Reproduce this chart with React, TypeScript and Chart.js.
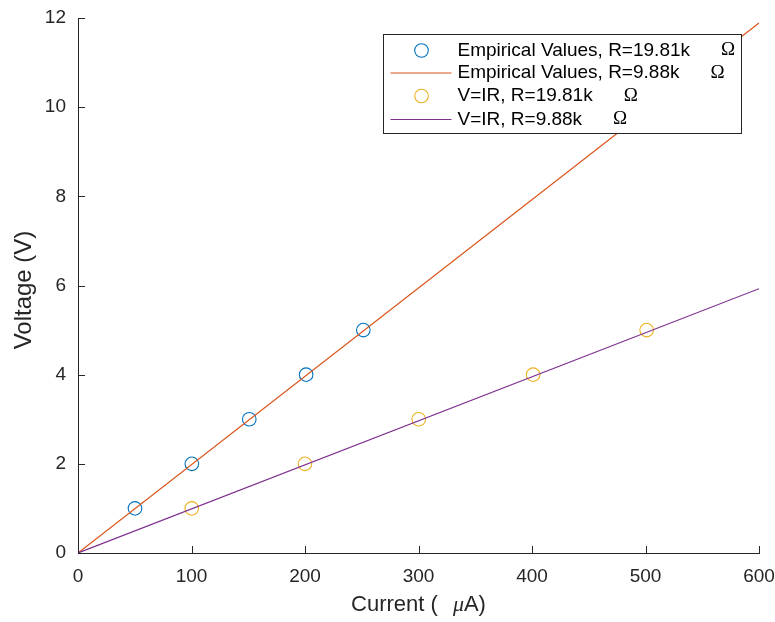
import React, { useEffect, useRef } from "react";
import { Chart, registerables } from "chart.js";

Chart.register(...registerables);

// ---- data ----
const xTickValues = [0, 100, 200, 300, 400, 500, 600];
const yTickValues = [0, 2, 4, 6, 8, 10, 12];

const empiricalCurrent = [50.2, 100.3, 150.9, 201, 251.4];
const empiricalVoltage = [1, 2, 3, 4, 5];

const fitCurrentHigh = [0, 600];
const fitVoltageHigh = [0, 11.886];

const ohmCurrent = [100.2, 200, 300.2, 401, 501];
const ohmVoltage = [1, 2, 3, 4, 5];

const fitCurrentLow = [0, 600];
const fitVoltageLow = [0, 5.928];

const legendLabels = [
  "Empirical Values, R=19.81k",
  "Empirical Values, R=9.88k",
  "V=IR, R=19.81k",
  "V=IR, R=9.88k",
];
const unitSymbol = "Ω";
const xTitleBefore = "Current (";
const xTitleMu = "μ";
const xTitleAfter = "A)";
const yTitle = "Voltage (V)";

const SANS = "'Liberation Sans', Arial, Helvetica, sans-serif";
const SERIF = "'Liberation Serif', 'Times New Roman', serif";
const AXIS_COLOR = "#262626";

function toPoints(xs: number[], ys: number[]) {
  return xs.map((x, i) => ({ x, y: ys[i] }));
}

const matlabPlugin = {
  id: "matlabDecor",
  afterDraw(chart: any) {
    const ctx: CanvasRenderingContext2D = chart.ctx;
    const xs = chart.scales.x;
    const ys = chart.scales.y;
    const area = chart.chartArea;
    ctx.save();

    // inward ticks
    ctx.strokeStyle = AXIS_COLOR;
    ctx.lineWidth = 1;
    ctx.beginPath();
    xTickValues.forEach((v) => {
      const px = Math.round(xs.getPixelForValue(v)) + 0.5;
      ctx.moveTo(px, area.bottom);
      ctx.lineTo(px, area.bottom - 7);
    });
    yTickValues.forEach((v) => {
      const py = Math.round(ys.getPixelForValue(v)) + 0.5;
      ctx.moveTo(area.left, py);
      ctx.lineTo(area.left + 7, py);
    });
    ctx.stroke();

    // x title
    ctx.fillStyle = AXIS_COLOR;
    ctx.textBaseline = "middle";
    ctx.textAlign = "left";
    const sansTitle = `22px ${SANS}`;
    const muFont = `italic 22px ${SERIF}`;
    ctx.font = sansTitle;
    const w1 = ctx.measureText(xTitleBefore).width;
    const w3 = ctx.measureText(xTitleAfter).width;
    ctx.font = muFont;
    const w2 = ctx.measureText(xTitleMu).width;
    const gap = 15;
    const total = w1 + gap + w2 + w3;
    const cx = (area.left + area.right) / 2;
    const ty = 605;
    let sx = cx - total / 2;
    ctx.font = sansTitle;
    ctx.fillText(xTitleBefore, sx, ty);
    sx += w1 + gap;
    ctx.font = muFont;
    ctx.fillText(xTitleMu, sx, ty);
    sx += w2;
    ctx.font = sansTitle;
    ctx.fillText(xTitleAfter, sx, ty);

    // y title
    ctx.save();
    ctx.translate(24, 290);
    ctx.rotate(-Math.PI / 2);
    ctx.textAlign = "center";
    ctx.font = `24px ${SANS}`;
    ctx.fillText(yTitle, 0, 0);
    ctx.restore();

    // legend
    const bx = area.right - 375.5;
    const by = area.top + 16.5;
    const bw = 358;
    const bh = 99;
    ctx.fillStyle = "#ffffff";
    ctx.fillRect(bx, by, bw, bh);
    ctx.strokeStyle = AXIS_COLOR;
    ctx.lineWidth = 1;
    ctx.strokeRect(bx, by, bw, bh);

    const rowY = [by + 16, by + 38.5, by + 61.5, by + 85];
    chart.data.datasets.forEach((ds: any, i: number) => {
      const y = rowY[i];
      ctx.strokeStyle = ds.borderColor;
      ctx.lineWidth = ds.showLine ? 1.2 : 1.1;
      ctx.beginPath();
      if (ds.showLine) {
        ctx.moveTo(bx + 7, y);
        ctx.lineTo(bx + 68, y);
      } else {
        ctx.arc(bx + 38, y, 6.8, 0, Math.PI * 2);
      }
      ctx.stroke();
      ctx.fillStyle = "#000000";
      ctx.font = `19px ${SANS}`;
      ctx.textAlign = "left";
      ctx.textBaseline = "middle";
      const label = legendLabels[i];
      ctx.fillText(label, bx + 74, y);
      const lw = ctx.measureText(label).width;
      ctx.font = `19px ${SERIF}`;
      ctx.fillText(unitSymbol, bx + 74 + lw + 31, y);
    });

    ctx.restore();
  },
};

export default function App() {
  const canvasRef = useRef<HTMLCanvasElement | null>(null);

  useEffect(() => {
    document.body.style.margin = "0";
    const canvas = canvasRef.current;
    if (!canvas) return;

    const tickFont = { family: SANS, size: 19 };

    const chart = new Chart(canvas, {
      type: "scatter",
      data: {
        datasets: [
          {
            label: legendLabels[0],
            data: toPoints(empiricalCurrent, empiricalVoltage),
            showLine: false,
            borderColor: "#0072BD",
            backgroundColor: "rgba(0,0,0,0)",
            pointStyle: "circle",
            pointRadius: 6.8,
            pointBorderWidth: 1.1,
            order: 3,
          },
          {
            label: legendLabels[1],
            data: toPoints(fitCurrentHigh, fitVoltageHigh),
            showLine: true,
            borderColor: "#D95319",
            backgroundColor: "#D95319",
            borderWidth: 1.2,
            pointRadius: 0,
            order: 2,
          },
          {
            label: legendLabels[2],
            data: toPoints(ohmCurrent, ohmVoltage),
            showLine: false,
            borderColor: "#EDB120",
            backgroundColor: "rgba(0,0,0,0)",
            pointStyle: "circle",
            pointRadius: 6.8,
            pointBorderWidth: 1.1,
            order: 1,
          },
          {
            label: legendLabels[3],
            data: toPoints(fitCurrentLow, fitVoltageLow),
            showLine: true,
            borderColor: "#7E2F8E",
            backgroundColor: "#7E2F8E",
            borderWidth: 1.2,
            pointRadius: 0,
            order: 0,
          },
        ],
      },
      options: {
        animation: false,
        responsive: false,
        devicePixelRatio: 1,
        layout: { padding: { top: 18, right: 16, left: 0, bottom: 0 } },
        plugins: {
          legend: { display: false },
          tooltip: { enabled: false },
          title: { display: false },
        },
        scales: {
          x: {
            type: "linear",
            min: 0,
            max: 600,
            afterBuildTicks: (s: any) => {
              s.ticks = xTickValues.map((v) => ({ value: v }));
            },
            afterFit: (s: any) => {
              s.height = 69;
              s.paddingLeft = 0;
              s.paddingRight = 0;
            },
            ticks: {
              font: tickFont,
              color: AXIS_COLOR,
              padding: 4,
              maxRotation: 0,
              autoSkip: false,
            },
            grid: { display: false },
            border: { display: true, color: AXIS_COLOR, width: 1 },
          },
          y: {
            type: "linear",
            min: 0,
            max: 12,
            afterBuildTicks: (s: any) => {
              s.ticks = yTickValues.map((v) => ({ value: v }));
            },
            afterFit: (s: any) => {
              s.width = 78;
              s.paddingTop = 0;
              s.paddingBottom = 0;
            },
            ticks: {
              font: tickFont,
              color: AXIS_COLOR,
              padding: 4,
              autoSkip: false,
            },
            grid: { display: false },
            border: { display: true, color: AXIS_COLOR, width: 1 },
          },
        },
      },
      plugins: [matlabPlugin],
    } as any);

    return () => chart.destroy();
  }, []);

  return (
    <div style={{ position: "absolute", left: 0, top: 0, width: 775, height: 622, background: "#fff" }}>
      <canvas ref={canvasRef} width={775} height={622} style={{ display: "block" }} />
    </div>
  );
}
